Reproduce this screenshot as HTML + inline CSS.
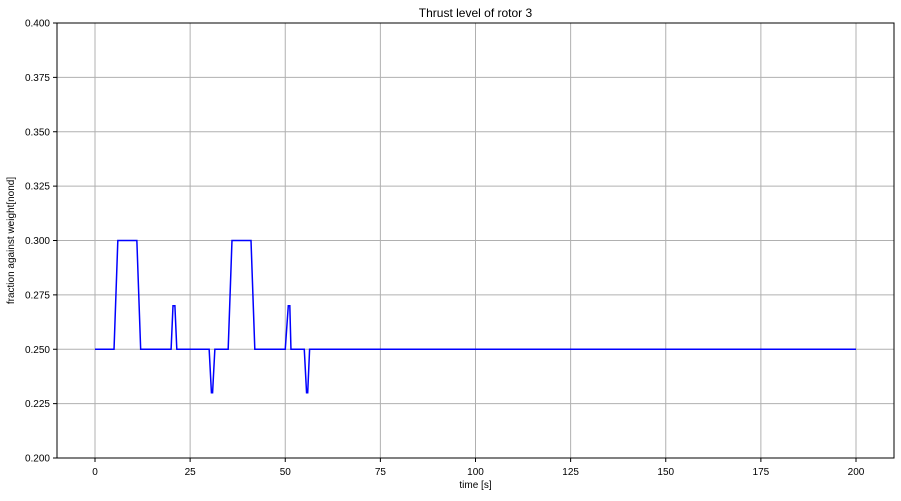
<!DOCTYPE html>
<html><head><meta charset="utf-8"><style>
body{margin:0;background:#fff;font-family:"Liberation Sans",sans-serif}
svg text{font-family:"Liberation Sans",sans-serif;fill:#000}
</style></head><body>
<svg id="c" width="901" height="496"></svg>
<script>
const tickX=[0,25,50,75,100,125,150,175,200];
const tickY=[0.200,0.225,0.250,0.275,0.300,0.325,0.350,0.375,0.400];
const timeVals=[0,5,6,11,12,20,20.5,21,21.5,30,30.6,30.9,31.5,35,36,41,42,50,50.8,51.2,51.5,55,55.6,55.9,56.4,200];
const thrustVals=[0.25,0.25,0.3,0.3,0.25,0.25,0.27,0.27,0.25,0.25,0.23,0.23,0.25,0.25,0.3,0.3,0.25,0.25,0.27,0.27,0.25,0.25,0.23,0.23,0.25,0.25];
const L=57,R=894,T=23,B=458;
const sx=v=>95+(v-0)*(856-95)/200;
const sy=v=>B-(v-0.2)*(B-T)/0.2;
const svg=document.getElementById('c');const NS='http://www.w3.org/2000/svg';
function mk(t,a,txt){const e=document.createElementNS(NS,t);for(const k in a)e.setAttribute(k,a[k]);if(txt!=null)e.textContent=txt;svg.appendChild(e);return e;}
tickX.forEach(v=>{const x=sx(v);
const g=mk('line',{x1:x,x2:x,y1:T,y2:B,stroke:'#b0b0b0','stroke-width':1});


mk('line',{x1:x,x2:x,y1:B,y2:B+4,stroke:'#000'});
const t=mk('text',{x:x,y:B+17,'font-size':10,'text-anchor':'middle'},String(v));

});
tickY.forEach(v=>{const y=sy(v);
const g=mk('line',{x1:L,x2:R,y1:y,y2:y,stroke:'#b0b0b0','stroke-width':1});


mk('line',{x1:L-4,x2:L,y1:y,y2:y,stroke:'#000'});
const t=mk('text',{x:L-7,y:y+3.5,'font-size':10,'text-anchor':'end'},v.toFixed(3));

});
const p=mk('polyline',{points:timeVals.map((t,i)=>sx(t)+','+sy(thrustVals[i])).join(' '),fill:'none',stroke:'#0000ff','stroke-width':1.5});


const f=mk('rect',{x:L,y:T,width:R-L,height:B-T,fill:'none',stroke:'#000','stroke-width':1});


const ti=mk('text',{x:(L+R)/2,y:17,'font-size':12,'text-anchor':'middle'},'Thrust level of rotor 3');


const xl=mk('text',{x:(L+R)/2,y:488,'font-size':10,'text-anchor':'middle'},'time [s]');


const yl=mk('text',{x:0,y:0,'font-size':10,'text-anchor':'middle',transform:'translate(14,'+((T+B)/2)+') rotate(-90)'},'fraction against weight[nond]');


</script>
</body></html>
